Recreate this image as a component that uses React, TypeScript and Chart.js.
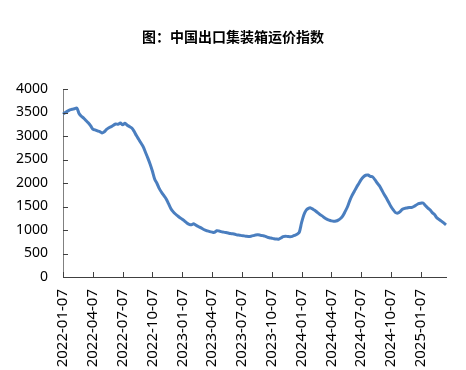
import React, { useEffect, useRef } from "react";
import { Chart, registerables } from "chart.js";

Chart.register(...registerables);

const TITLE = "图：中国出口集装箱运价指数";

// Quarterly tick labels shown on the x axis (one every 13 weeks)
const tickLabels = [
  "2022-01-07", "2022-04-07", "2022-07-07", "2022-10-07",
  "2023-01-07", "2023-04-07", "2023-07-07", "2023-10-07",
  "2024-01-07", "2024-04-07", "2024-07-07", "2024-10-07",
  "2025-01-07",
];
const TICK_EVERY_WEEKS = 13;

// Weekly index values (CCFI), starting 2022-01-07
const indexValues = [
  3465, 3500, 3530, 3555, 3570, 3580, 3595, 3480, 3420, 3380,
  3330, 3280, 3220, 3145, 3130, 3110, 3095, 3065, 3090, 3140,
  3175, 3200, 3230, 3255, 3250, 3275, 3240, 3270, 3230, 3200,
  3170, 3100, 3010, 2930, 2850, 2770, 2650, 2530, 2400, 2250,
  2080, 1990, 1880, 1800, 1730, 1660, 1560, 1460, 1390, 1340,
  1300, 1260, 1230, 1190, 1150, 1120, 1110, 1135, 1100, 1075,
  1050, 1020, 995, 980, 965, 955, 950, 985, 980, 965,
  955, 945, 935, 925, 920, 910, 895, 890, 880, 875,
  865, 862, 868, 880, 895, 898, 890, 880, 870, 850,
  835, 825, 815, 808, 805, 830, 860, 868, 862, 858,
  865, 885, 910, 950, 1150, 1320, 1420, 1460, 1470, 1440,
  1410, 1370, 1330, 1300, 1260, 1230, 1210, 1195, 1185, 1190,
  1210, 1245, 1300, 1390, 1490, 1620, 1730, 1820, 1910, 1990,
  2070, 2130, 2165, 2170, 2140, 2130, 2070, 2000, 1940, 1850,
  1760, 1680, 1590, 1500, 1430, 1370, 1360, 1390, 1440, 1460,
  1470, 1480, 1480, 1500, 1530, 1560, 1570, 1575, 1520, 1470,
  1430, 1370, 1330, 1260, 1225, 1190, 1150, 1110,
];

const Y_MIN = 0;
const Y_MAX = 4000;
const Y_STEP = 500;

// Weekly category labels
const weekLabels = indexValues.map((_, i) => {
  const d = new Date(Date.UTC(2022, 0, 7 + 7 * i));
  return d.toISOString().slice(0, 10);
});

const inwardTicks = {
  id: "inwardTicks",
  afterDraw(chart: any) {
    const ctx = chart.ctx;
    const area = chart.chartArea;
    const xs = chart.scales.x;
    const ys = chart.scales.y;
    ctx.save();
    ctx.strokeStyle = "#404040";
    ctx.lineWidth = 1;
    ctx.beginPath();
    for (let i = 0; i < xs.ticks.length; i++) {
      const px = Math.round(xs.getPixelForTick(i)) + 0.5;
      ctx.moveTo(px, area.bottom);
      ctx.lineTo(px, area.bottom - 5);
    }
    for (let i = 0; i < ys.ticks.length; i++) {
      const py = Math.round(ys.getPixelForTick(i)) + 0.5;
      ctx.moveTo(area.left, py);
      ctx.lineTo(area.left + 5, py);
    }
    ctx.stroke();
    ctx.restore();
  },
};

const titlePlugin = {
  id: "centeredTitle",
  afterDraw(chart: any) {
    const ctx = chart.ctx;
    ctx.save();
    ctx.fillStyle = "#000";
    ctx.font = "bold 14px 'Noto Sans CJK SC'";
    ctx.textAlign = "center";
    ctx.textBaseline = "middle";
    ctx.fillText(TITLE, chart.width / 2, 37);
    ctx.restore();
  },
};

export default function App() {
  const ref = useRef<HTMLCanvasElement | null>(null);

  useEffect(() => {
    if (!ref.current) return;
    const chart = new Chart(ref.current, {
      type: "line",
      data: {
        labels: weekLabels,
        datasets: [
          {
            data: indexValues,
            borderColor: "#4A7EBF",
            borderWidth: 3,
            pointRadius: 0,
            tension: 0.3,
            fill: false,
          },
        ],
      },
      options: {
        responsive: false,
        animation: false,
        layout: { padding: { left: 0, right: 20, top: 89, bottom: 0 } },
        plugins: {
          legend: { display: false },
          tooltip: { enabled: false },
          title: { display: false },
        },
        scales: {
          x: {
            type: "category",
            offset: false,
            grid: { display: false, drawTicks: false },
            border: { display: true, color: "#404040", width: 1 },
            afterBuildTicks: (scale: any) => {
              scale.ticks = scale.ticks.filter(
                (t: any) => t.value % TICK_EVERY_WEEKS === 0
              );
            },
            afterFit: (scale: any) => {
              scale.height = 93;
            },
            ticks: {
              autoSkip: false,
              maxRotation: 90,
              minRotation: 90,
              padding: 12,
              color: "#000",
              font: { family: "'Noto Sans'", size: 15 },
              callback: (value: any) =>
                tickLabels[Math.round(Number(value) / TICK_EVERY_WEEKS)] ?? "",
            },
          },
          y: {
            min: Y_MIN,
            max: Y_MAX,
            grid: { display: false, drawTicks: false },
            border: { display: true, color: "#808080", width: 1 },
            afterFit: (scale: any) => {
              scale.width = 63;
            },
            ticks: {
              stepSize: Y_STEP,
              padding: 15,
              color: "#000",
              font: { family: "'Noto Sans'", size: 14 },
              callback: (value: any) => String(value),
            },
          },
        },
      },
      plugins: [inwardTicks, titlePlugin],
    } as any);
    return () => chart.destroy();
  }, []);

  return (
    <div style={{ position: "fixed", left: 0, top: 0, width: 466, height: 370, background: "#fff" }}>
      <canvas ref={ref} width={466} height={370} style={{ width: 466, height: 370 }} />
    </div>
  );
}
